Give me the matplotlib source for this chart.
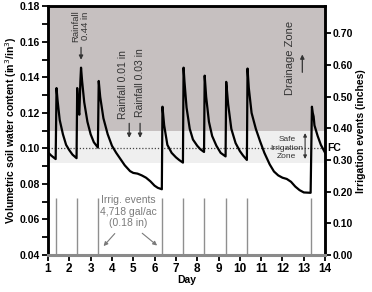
import matplotlib

matplotlib.use("Agg")
import matplotlib.pyplot as plt
from matplotlib.ticker import MultipleLocator

plt.rcParams["font.family"] = ["Liberation Sans", "DejaVu Sans"]

# soil water content trace
days = [1.00, 1.15, 1.36, 1.40, 1.45, 1.55, 1.70, 1.85, 2.00, 2.15, 2.34, 2.37, 2.42, 2.47,
        2.52, 2.55, 2.60, 2.70, 2.85, 3.00, 3.15, 3.34, 3.38, 3.45, 3.60, 3.80, 4.00, 4.20,
        4.40, 4.60, 4.85, 5.00, 5.20, 5.40, 5.60, 5.80, 6.00, 6.15, 6.34, 6.37, 6.45, 6.60,
        6.80, 7.00, 7.15, 7.33, 7.36, 7.40, 7.50, 7.65, 7.80, 8.00, 8.15, 8.32, 8.35, 8.42,
        8.55, 8.70, 8.90, 9.10, 9.33, 9.36, 9.45, 9.60, 9.80, 10.00, 10.15, 10.33, 10.36,
        10.42, 10.55, 10.75, 10.95, 11.15, 11.40, 11.60, 11.80, 12.00, 12.20, 12.40, 12.60,
        12.80, 13.00, 13.32, 13.38, 13.42, 13.46, 13.50, 13.65, 13.80, 14.00]
vwc = [0.0978, 0.0960, 0.0940, 0.1340, 0.1270, 0.1160, 0.1080, 0.1020, 0.0990, 0.0965,
       0.0945, 0.1340, 0.1220, 0.1190, 0.1380, 0.1455, 0.1380, 0.1260, 0.1150, 0.1080,
       0.1035, 0.1005, 0.1380, 0.1290, 0.1170, 0.1080, 0.1015, 0.0975, 0.0940, 0.0905,
       0.0872, 0.0862, 0.0858, 0.0848, 0.0835, 0.0815, 0.0790, 0.0778, 0.0770, 0.1235,
       0.1130, 0.1020, 0.0975, 0.0950, 0.0935, 0.0920, 0.1455, 0.1380, 0.1230, 0.1110,
       0.1050, 0.1015, 0.0995, 0.0980, 0.1410, 0.1290, 0.1150, 0.1070, 0.1015, 0.0975,
       0.0955, 0.1375, 0.1250, 0.1110, 0.1030, 0.0985, 0.0960, 0.0935, 0.1450, 0.1340,
       0.1200, 0.1110, 0.1040, 0.0975, 0.0910, 0.0870, 0.0848, 0.0835, 0.0828, 0.0812,
       0.0785, 0.0765, 0.0752, 0.0750, 0.1235, 0.1200, 0.1180, 0.1130, 0.1070, 0.1020,
       0.0975]

irrig_days = [1.38, 2.36, 3.36, 6.35, 7.35, 8.34, 9.34, 10.35, 13.35]
irrig_in = [0.18] * len(irrig_days)

fc = 0.10
safe_zone = (0.092, 0.110)
drain_zone = (0.110, 0.180)

fig = plt.figure(figsize=(3.72, 2.92), dpi=100)
ax = fig.add_axes([0.129, 0.127, 0.745, 0.851])
ax2 = ax.twinx()

ax.axhspan(*drain_zone, color="#c6c0c0", lw=0, zorder=0)
ax.axhspan(*safe_zone, color="#efefef", lw=0, zorder=0)
ax.axhline(fc, color="#444444", lw=0.9, ls=(0, (1, 1.5)), zorder=1)
ax.plot(days, vwc, color="black", lw=1.6, zorder=3)

ax2.vlines(irrig_days, 0, irrig_in, color="#8f8f8f", lw=1.0)
ax2.plot([1, 14], [0, 0], color="#8a8a8a", lw=2.2, clip_on=False, zorder=5)

ax.set_xlim(1, 14)
ax.set_ylim(0.04, 0.18)
ax2.set_ylim(0, 0.785)
ax.set_xticks(range(1, 15))
ax.yaxis.set_major_locator(MultipleLocator(0.02))
ax.yaxis.set_minor_locator(MultipleLocator(0.01))
ax2.set_yticks([0.0, 0.1, 0.2, 0.3, 0.4, 0.5, 0.6, 0.7])
ax.yaxis.set_major_formatter(lambda v, p: f"{v:.2f}")
ax2.yaxis.set_major_formatter(lambda v, p: f"{v:.2f}")

for a in (ax, ax2):
    for s in a.spines.values():
        s.set_linewidth(1.8)
    a.tick_params(which="both", direction="out", length=4, width=1.3, pad=1.5,
                  labelsize=7.5)
ax.tick_params(axis="x", labelsize=8.5)
for a in (ax, ax2):
    for lab in a.get_xticklabels() + a.get_yticklabels():
        lab.set_fontweight("bold")

ax.set_xlabel("Day", fontsize=7.5, fontweight="bold", labelpad=0)
ax.set_ylabel("Volumetric soil water content (in$^3$/in$^3$)", fontsize=7.5,
              fontweight="bold", labelpad=1)
ax2.set_ylabel("Irrigation events (inches)", fontsize=7.5, fontweight="bold", labelpad=2)

txt = "#333333"
arrow = dict(arrowstyle="-|>", color="#333333", lw=0.9, mutation_scale=6)
ax.text(2.55, 0.1690, "Rainfall\n0.44 in", rotation=90, ha="center", va="center",
        fontsize=6.8, color=txt, linespacing=1.1)
ax.annotate("", xy=(2.55, 0.1484), xytext=(2.55, 0.1585), arrowprops=arrow)
ax.text(4.5, 0.1357, "Rainfall 0.01 in", rotation=90, ha="center", va="center",
        fontsize=7.5, color=txt)
ax.annotate("", xy=(4.81, 0.1044), xytext=(4.81, 0.1157), arrowprops=arrow)
ax.text(5.32, 0.1370, "Rainfall 0.03 in", rotation=90, ha="center", va="center",
        fontsize=7.5, color=txt)
ax.annotate("", xy=(5.32, 0.1044), xytext=(5.32, 0.1157), arrowprops=arrow)

ax.text(12.36, 0.1512, "Drainage Zone", rotation=90, ha="center", va="center",
        fontsize=8, color=txt)
ax.annotate("", xy=(12.93, 0.1545), xytext=(12.93, 0.1413), arrowprops=arrow)

ax.text(12.2, 0.1002, "Safe\nIrrigation\nZone", ha="center", va="center",
        fontsize=6, color=txt, linespacing=1.35)
ax.annotate("", xy=(13.06, 0.1102), xytext=(13.06, 0.0925),
            arrowprops=dict(arrowstyle="<|-|>", color="#333333", lw=0.8, mutation_scale=5))
ax.text(14.12, fc, "FC", ha="left", va="center", fontsize=7.5, fontweight="bold",
        color="black")

grey = "#7a7a7a"
ax.text(4.76, 0.0644, "Irrig. events\n4,718 gal/ac\n(0.18 in)", ha="center", va="center",
        fontsize=7.5, color=grey, linespacing=1.15)
garrow = dict(arrowstyle="-|>", color=grey, lw=0.8, mutation_scale=6)
ax.annotate("", xy=(3.52, 0.0438), xytext=(4.22, 0.0532), arrowprops=garrow)
ax.annotate("", xy=(6.22, 0.0443), xytext=(5.32, 0.0532), arrowprops=garrow)

fig.savefig("out.png", dpi=100)
